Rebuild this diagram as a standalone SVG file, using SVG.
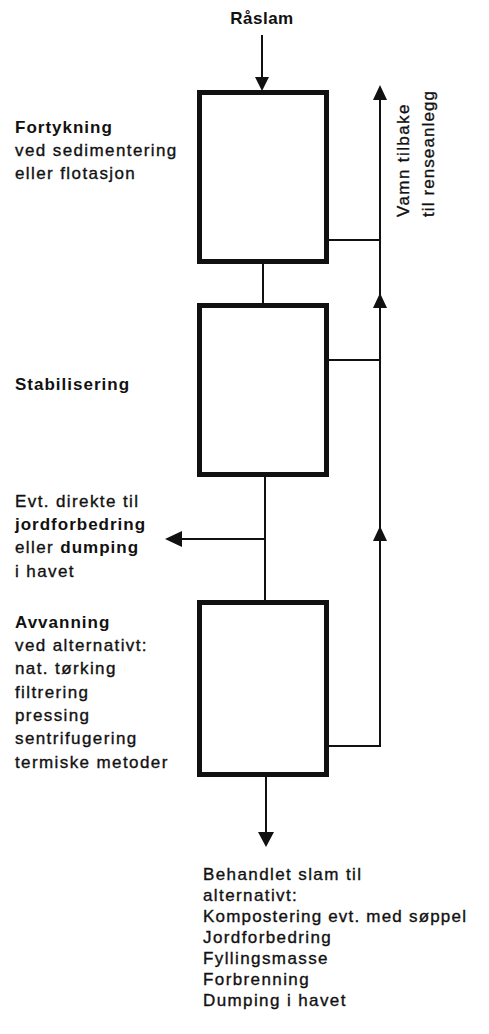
<svg xmlns="http://www.w3.org/2000/svg" width="489" height="1034" viewBox="0 0 489 1034">
<style>
text{font-family:"Liberation Sans",Arial,sans-serif;font-size:17px;fill:#111;stroke:#111;stroke-width:0.35;letter-spacing:1.4px}
.b{font-weight:bold;letter-spacing:1px;stroke-width:0}
.box{fill:#fff;stroke:#111;stroke-width:5}
.ln{fill:none;stroke:#111;stroke-width:2}
.ah{fill:#111}
</style>
<rect width="489" height="1034" fill="#fff"/>
<g id="connectors">
<line class="ln" x1="262" y1="35" x2="262" y2="80"/>
<polygon class="ah" points="255,77 269,77 262,91"/>
<line class="ln" x1="263" y1="264" x2="263" y2="303"/>
<line class="ln" x1="265" y1="477" x2="265" y2="600"/>
<line class="ln" x1="265" y1="539" x2="178" y2="539"/>
<polygon class="ah" points="182,531 182,547 165,539"/>
<line class="ln" x1="266" y1="777" x2="266" y2="836"/>
<polygon class="ah" points="258,832 274,832 266,847"/>
<line class="ln" x1="329" y1="240" x2="380" y2="240"/>
<line class="ln" x1="329" y1="360" x2="380" y2="360"/>
<line class="ln" x1="329" y1="746" x2="381" y2="746"/>
<line class="ln" x1="380" y1="96" x2="380" y2="746"/>
<polygon class="ah" points="373,100 387,100 380,85"/>
<polygon class="ah" points="373,308 387,308 380,293"/>
<polygon class="ah" points="373,541 387,541 380,526"/>
</g>
<g id="raslam"><text class="b" x="262" y="24" text-anchor="middle" style="letter-spacing:0.5px">Råslam</text></g>
<g id="fortykning">
<rect class="box" x="199.5" y="92.5" width="127" height="169"/>
<text class="b" x="15" y="133">Fortykning</text>
<text x="15" y="156">ved sedimentering</text>
<text x="15" y="179">eller flotasjon</text>
</g>
<g id="stabilisering">
<rect class="box" x="199.5" y="305.5" width="127" height="169"/>
<text class="b" x="15" y="390">Stabilisering</text>
</g>
<g id="direkte">
<text x="15" y="507">Evt. direkte til</text>
<text x="15" y="530"><tspan class="b">jordforbedring</tspan></text>
<text x="15" y="553">eller <tspan class="b">dumping</tspan></text>
<text x="15" y="577">i havet</text>
</g>
<g id="avvanning">
<rect class="box" x="199.5" y="602.5" width="127" height="172"/>
<text class="b" x="15" y="628">Avvanning</text>
<text x="15" y="651">ved alternativt:</text>
<text x="15" y="674">nat. tørking</text>
<text x="15" y="698">filtrering</text>
<text x="15" y="721">pressing</text>
<text x="15" y="744">sentrifugering</text>
<text x="15" y="768">termiske metoder</text>
</g>
<g id="vann">
<text x="409" y="217" transform="rotate(-90 409 217)">Vamn tilbake</text>
<text x="434" y="217" transform="rotate(-90 434 217)" style="letter-spacing:1.1px">til renseanlegg</text>
</g>
<g id="behandlet">
<text x="203" y="880">Behandlet slam til</text>
<text x="203" y="901">alternativt:</text>
<text x="203" y="922" style="letter-spacing:1.2px">Kompostering evt. med søppel</text>
<text x="203" y="943">Jordforbedring</text>
<text x="203" y="964">Fyllingsmasse</text>
<text x="203" y="985">Forbrenning</text>
<text x="203" y="1006">Dumping i havet</text>
</g>
</svg>
